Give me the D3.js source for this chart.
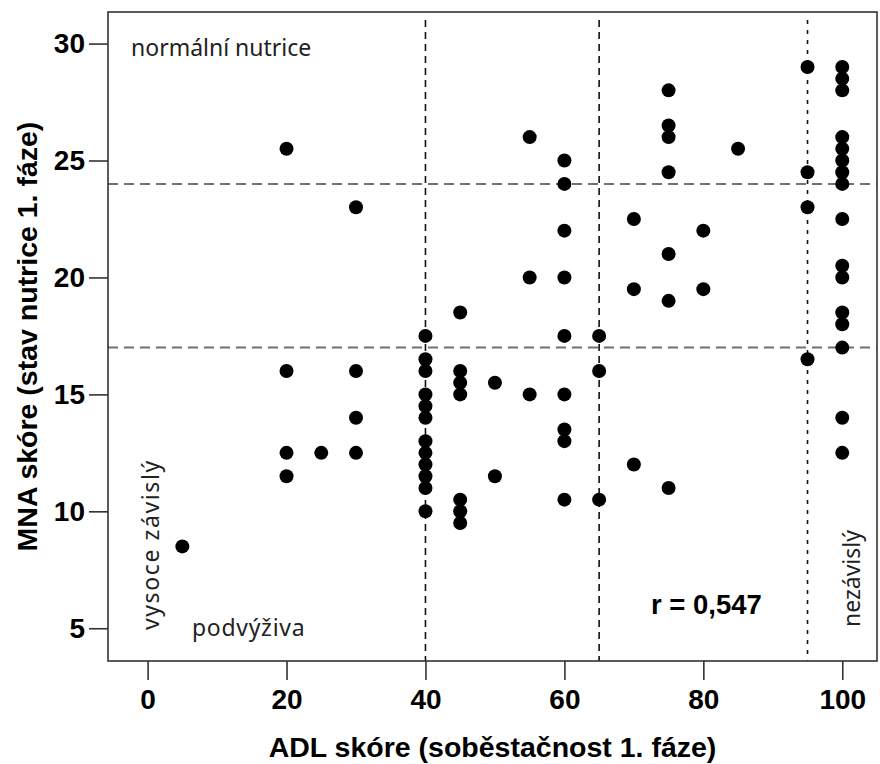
<!DOCTYPE html>
<html>
<head>
<meta charset="utf-8">
<script src="https://cdn.jsdelivr.net/npm/d3@7"></script>
<style>
  body { margin: 0; background: #fff; }
  svg { display: block; }
</style>
</head>
<body>
<div id="chart"></div>
<script>
// ADL score (x) and MNA score (y) of each patient
var adlScore = [5,
  20, 20, 20, 20,
  25,
  30, 30, 30, 30,
  40, 40, 40, 40, 40, 40, 40, 40, 40, 40, 40, 40,
  45, 45, 45, 45, 45, 45, 45,
  50, 50,
  55, 55, 55,
  60, 60, 60, 60, 60, 60, 60, 60, 60,
  65, 65, 65,
  70, 70, 70,
  75, 75, 75, 75, 75, 75, 75,
  80, 80,
  85,
  95, 95, 95, 95,
  100, 100, 100, 100, 100, 100, 100, 100, 100, 100, 100, 100, 100, 100, 100, 100];
var mnaScore = [8.5,
  25.5, 16, 12.5, 11.5,
  12.5,
  23, 16, 14, 12.5,
  17.5, 16.5, 16, 15, 14.5, 14, 13, 12.5, 12, 11.5, 11, 10,
  18.5, 16, 15.5, 15, 10.5, 10, 9.5,
  15.5, 11.5,
  26, 20, 15,
  25, 24, 22, 20, 17.5, 15, 13.5, 13, 10.5,
  17.5, 16, 10.5,
  22.5, 19.5, 12,
  28, 26.5, 26, 24.5, 21, 19, 11,
  22, 19.5,
  25.5,
  29, 24.5, 23, 16.5,
  29, 28.5, 28, 26, 25.5, 25, 24.5, 24, 22.5, 20.5, 20, 18.5, 18, 17, 14, 12.5];

var xTicks = [0, 20, 40, 60, 80, 100];
var yTicks = [5, 10, 15, 20, 25, 30];
var mnaCuts = [24, 17];       // horizontal reference lines
var adlCuts = [40, 65];       // vertical dashed lines
var adlCutDotted = [95];      // vertical dotted line

var width = 880, height = 764;
var pL = 108, pR = 877, pT = 12, pB = 661;

var svg = d3.select("#chart").append("svg")
    .attr("width", width)
    .attr("height", height);

var x = d3.scaleLinear().domain([-5.7, 105]).range([pL, pR]);
var y = d3.scaleLinear().domain([3.6, 31.35]).range([pB, pT]);

var boldFont = "'Liberation Sans', Arial, sans-serif";
var noteFont = "'Noto Sans', 'Open Sans', sans-serif";

// reference lines
svg.selectAll(".hcut").data(mnaCuts).enter().append("line")
    .attr("x1", pL).attr("x2", pR)
    .attr("y1", function(d){ return y(d); })
    .attr("y2", function(d){ return y(d); })
    .attr("stroke", "#707070")
    .attr("stroke-width", 2)
    .attr("stroke-dasharray", "10,6");

svg.selectAll(".vcut").data(adlCuts).enter().append("line")
    .attr("x1", function(d){ return x(d); })
    .attr("x2", function(d){ return x(d); })
    .attr("y1", pT + 8).attr("y2", pB)
    .attr("stroke", "#111")
    .attr("stroke-width", 1.6)
    .attr("stroke-dasharray", "7,5");

svg.selectAll(".vdot").data(adlCutDotted).enter().append("line")
    .attr("x1", function(d){ return x(d); })
    .attr("x2", function(d){ return x(d); })
    .attr("y1", pT + 8).attr("y2", pB)
    .attr("stroke", "#111")
    .attr("stroke-width", 1.6)
    .attr("stroke-dasharray", "4,6");

// points
svg.selectAll("circle").data(adlScore).enter().append("circle")
    .attr("cx", function(d){ return x(d); })
    .attr("cy", function(d, i){ return y(mnaScore[i]); })
    .attr("r", 7)
    .attr("fill", "#000");

// frame
svg.append("rect")
    .attr("x", pL).attr("y", pT)
    .attr("width", pR - pL).attr("height", pB - pT)
    .attr("fill", "none")
    .attr("stroke", "#333")
    .attr("stroke-width", 1.6);

// axes
var xAxis = svg.append("g")
    .attr("transform", "translate(0," + pB + ")")
    .call(d3.axisBottom(x).tickValues(xTicks).tickSize(19).tickPadding(9));
var yAxis = svg.append("g")
    .attr("transform", "translate(" + pL + ",0)")
    .call(d3.axisLeft(y).tickValues(yTicks).tickSize(19).tickPadding(4));

[xAxis, yAxis].forEach(function(g){
  g.select(".domain").remove();
  g.selectAll(".tick line").attr("stroke", "#333").attr("stroke-width", 1.6);
  g.selectAll(".tick text")
    .attr("fill", "#000")
    .style("font-family", boldFont)
    .style("font-weight", "bold")
    .style("font-size", "28px");
});

// axis titles
svg.append("text")
    .attr("x", (pL + pR) / 2).attr("y", 757)
    .attr("text-anchor", "middle")
    .style("font-family", boldFont).style("font-weight", "bold").style("font-size", "28.5px")
    .text("ADL skóre (soběstačnost 1. fáze)");

svg.append("text")
    .attr("transform", "translate(37," + ((pT + pB) / 2) + ") rotate(-90)")
    .attr("text-anchor", "middle")
    .style("font-family", boldFont).style("font-weight", "bold").style("font-size", "28.5px")
    .text("MNA skóre (stav nutrice 1. fáze)");

// annotations
svg.append("text")
    .attr("x", 131).attr("y", 56)
    .attr("fill", "#222")
    .style("font-family", noteFont).style("font-size", "23px")
    .text("normální nutrice");
svg.append("text")
    .attr("x", 192).attr("y", 636)
    .attr("fill", "#222")
    .style("font-family", noteFont).style("font-size", "23px")
    .style("letter-spacing", "0.7px")
    .text("podvýživa");
svg.append("text")
    .attr("transform", "translate(159,630) rotate(-90)")
    .attr("fill", "#222")
    .style("font-family", noteFont).style("font-size", "23px")
    .style("letter-spacing", "1.6px")
    .text("vysoce závislý");
svg.append("text")
    .attr("transform", "translate(860,627) rotate(-90)")
    .attr("fill", "#222")
    .style("font-family", noteFont).style("font-size", "23px")
    .text("nezávislý");
svg.append("text")
    .attr("x", 651).attr("y", 614)
    .attr("fill", "#000")
    .style("font-family", boldFont).style("font-weight", "bold").style("font-size", "27.5px")
    .text("r = 0,547");
</script>
</body>
</html>
